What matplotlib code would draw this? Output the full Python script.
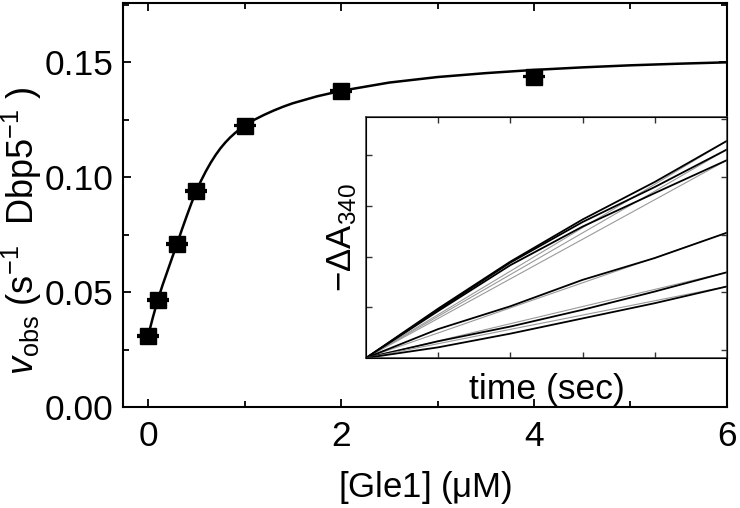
import matplotlib
matplotlib.use("Agg")
import matplotlib.pyplot as plt
import numpy as np

plt.rcParams['font.family'] = ['Liberation Sans', 'DejaVu Sans']
plt.rcParams['mathtext.fontset'] = 'custom'
plt.rcParams['mathtext.rm'] = 'Liberation Sans'
plt.rcParams['mathtext.it'] = 'Liberation Sans:italic'

# main data: observed rate vs [Gle1]
gle1 = [0, 0.1, 0.3, 0.5, 1, 2, 4]
vobs = [0.0309, 0.0465, 0.0709, 0.0940, 0.1223, 0.1375, 0.1436]
vobs_err = [0.0003, 0.0003, 0.0003, 0.0003, 0.0003, 0.0003, 0.0003]

# fitted curve
fit_x = [0, 0.05, 0.1, 0.15, 0.2, 0.25, 0.3, 0.35, 0.4, 0.45, 0.5, 0.55, 0.6,
         0.65, 0.7, 0.75, 0.8, 0.85, 0.9, 0.95, 1.0, 1.1, 1.2, 1.3, 1.4, 1.5,
         1.75, 2.0, 2.5, 3.0, 3.5, 4.0, 4.5, 5.0, 5.5, 6.0]
fit_y = [0.0309, 0.0390, 0.0465, 0.0530, 0.0590, 0.0650, 0.0709, 0.0771, 0.0830,
         0.0887, 0.0940, 0.0985, 0.1026, 0.1063, 0.1096, 0.1125, 0.1150, 0.1172,
         0.1191, 0.1208, 0.1223, 0.1249, 0.1270, 0.1289, 0.1306, 0.1321, 0.1351,
         0.1375, 0.1411, 0.1435, 0.1452, 0.1466, 0.1477, 0.1486, 0.1493, 0.1499]

# inset: absorbance traces (arbitrary units)
time = [0, 60, 120, 180, 240, 300]
traces = [
    [0, .00974, .0190, .0273, .0347, .0428],
    [0, .0095, .0188, .0268, .0337, .0411],
    [0, .00926, .0183, .0259, .0325, .0390],
    [0, .0057, .0102, .0154, .0197, .0247],
    [0, .0033, .0062, .0095, .0131, .0169],
    [0, .0021, .0048, .0078, .0108, .0141],
]

fig = plt.figure(figsize=(7.4, 5.08), dpi=100)
ax = fig.add_axes([0.1662, 0.1988, 0.8162, 0.7953])

ax.plot(fit_x, fit_y, color='black', lw=1.8, zorder=2)
ax.errorbar(gle1, vobs, yerr=vobs_err, fmt='s', color='black', ms=11,
            capsize=8, capthick=1.6, elinewidth=1.2, zorder=3)

ax.set_xlim(-0.26, 6)
ax.set_ylim(0, 0.1757)
ax.set_xticks([0, 2, 4, 6])
ax.set_xticks([1, 3, 5], minor=True)
ax.set_yticks([0, 0.05, 0.10, 0.15])
ax.set_yticks([0.025, 0.075, 0.125, 0.175], minor=True)
ax.set_yticklabels(['0.00', '0.05', '0.10', '0.15'])
ax.tick_params(which='both', direction='in', top=True, right=True, width=1.3)
ax.tick_params(which='major', length=6)
ax.tick_params(which='minor', length=4.5)
ax.tick_params(axis='x', labelsize=25.5, pad=9)
ax.tick_params(axis='y', labelsize=25.5, pad=7)
for s in ax.spines.values():
    s.set_linewidth(1.5)

fig.text(22 / 740, 1 - 231 / 508, r'$v_{\rm obs}$ (s$^{-1}$  Dbp5$^{-1}$ )',
         rotation=90, ha='center', va='center', fontsize=26)
fig.text(0.5745, 1 - 488 / 508, r'[Gle1] ($\mathrm{\mu}$M)',
         ha='center', va='center', fontsize=25)

# inset
axi = fig.add_axes([0.4946, 0.2953, 0.4878, 0.4744])
for tr in traces:
    axi.plot([time[0], time[-1]], [tr[0], tr[-1]], color='#9a9a9a', lw=0.8)
    axi.plot(time, tr, color='black', lw=1.3)
axi.set_xlim(0, 300)
axi.set_ylim(0, 0.0475)
axi.set_xticks([60, 120, 180, 240])
axi.set_yticks([0.01, 0.02, 0.03, 0.04])
axi.tick_params(direction='in', top=True, length=4, width=1,
                labelbottom=False, labelleft=False, colors='#333333')
for s in axi.spines.values():
    s.set_linewidth(1.1)
    s.set_color('#333333')
tw = axi.twinx()
tw.set_ylim(-0.138, 4.04)
tw.set_yticks([0, 1, 2, 3, 4])
tw.tick_params(direction='in', length=4, width=1, labelright=False, colors='#333333')

axi.text(-0.066, 0.5, r'$-\Delta$A$_{340}$', transform=axi.transAxes,
         rotation=90, ha='center', va='center', fontsize=25)
axi.text(0.5, -0.129, 'time (sec)', transform=axi.transAxes,
         ha='center', va='center', fontsize=25.5)

fig.savefig('out.png', dpi=100)
